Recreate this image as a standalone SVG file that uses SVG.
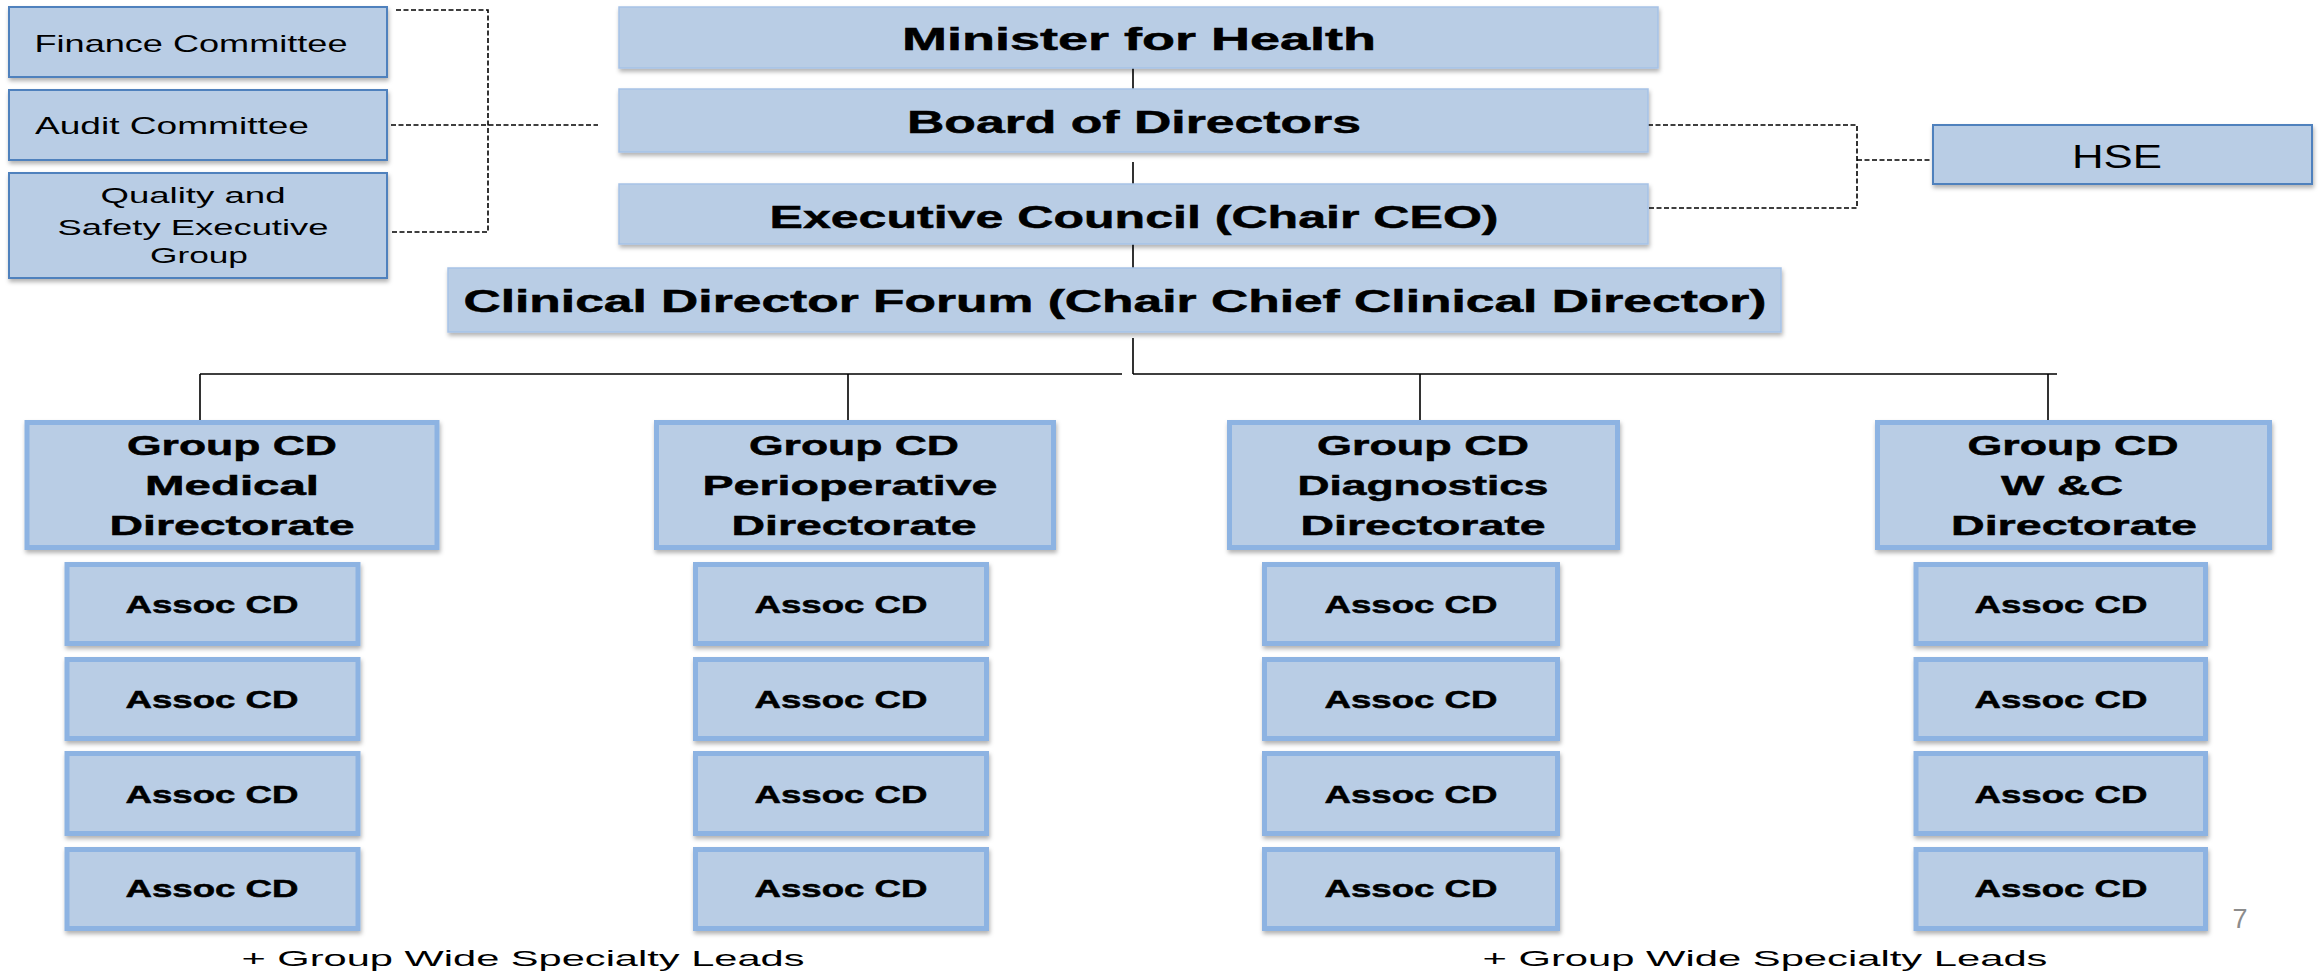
<svg xmlns="http://www.w3.org/2000/svg" width="2323" height="971" viewBox="0 0 2323 971">
<defs>
<filter id="sh" x="-5%" y="-10%" width="110%" height="130%">
<feDropShadow dx="1" dy="3" stdDeviation="2" flood-color="#000" flood-opacity="0.3"/>
</filter>
<style>
.box{fill:#b9cde5;filter:url(#sh)}
.thin{stroke:#a6c2e6;stroke-width:1.5}
.med{stroke:#4f81bd;stroke-width:2}
.thick{stroke:#8db3e2;stroke-width:5}
text{font-family:"Liberation Sans",Arial,sans-serif;fill:#000;text-anchor:middle}
.b{font-weight:bold;stroke:#000;stroke-width:0.5}
.t1{font-size:32px}
.t2{font-size:28px}
.t3{font-size:24px}
.r24{font-size:24px}
.r22{font-size:22px}
.solid{stroke:#000;stroke-width:1.6;fill:none}
.dash{stroke:#000;stroke-width:1.6;fill:none;stroke-dasharray:5 2.5}
</style>
</defs>
<rect width="2323" height="971" fill="#fff"/>

<g id="connectors">
<path class="solid" d="M1133,67V89M1133,162V184M1133,244V268M1133,338V374M200,374H1122M1133,374H2057M200,374V420M848,374V420M1420,374V420M2048,374V420"/>
<path class="dash" d="M396,10H488V232H391M391,125H598M1648,125H1857V208H1648M1857,160H1933"/>
</g>

<g id="finance"><rect class="box med" x="9" y="7" width="378" height="70"/><text class="r24" x="191" y="52" textLength="313" lengthAdjust="spacingAndGlyphs">Finance Committee</text></g>
<g id="audit"><rect class="box med" x="9" y="90" width="378" height="70"/><text class="r24" x="172" y="134" textLength="274" lengthAdjust="spacingAndGlyphs">Audit Committee</text></g>
<g id="quality"><rect class="box med" x="9" y="173" width="378" height="105"/>
<text class="r22" x="193" y="203" textLength="185" lengthAdjust="spacingAndGlyphs">Quality and</text>
<text class="r22" x="193" y="235" textLength="271" lengthAdjust="spacingAndGlyphs">Safety  Executive</text>
<text class="r22" x="199" y="263" textLength="98" lengthAdjust="spacingAndGlyphs">Group</text></g>

<g id="minister"><rect class="box thin" x="619" y="7" width="1039" height="61"/><text class="b t1" x="1139" y="50" textLength="474" lengthAdjust="spacingAndGlyphs">Minister for Health</text></g>
<g id="board"><rect class="box thin" x="619" y="89" width="1029" height="63"/><text class="b t1" x="1134" y="133" textLength="454" lengthAdjust="spacingAndGlyphs">Board of Directors</text></g>
<g id="exec"><rect class="box thin" x="619" y="184" width="1029" height="60"/><text class="b t1" x="1134" y="228" textLength="729" lengthAdjust="spacingAndGlyphs">Executive Council (Chair CEO)</text></g>
<g id="clinical"><rect class="box thin" x="448" y="268" width="1333" height="64"/><text class="b t1" x="1115" y="312" textLength="1303" lengthAdjust="spacingAndGlyphs">Clinical Director Forum (Chair Chief Clinical Director)</text></g>
<g id="hse"><rect class="box med" x="1933" y="125" width="379" height="59"/><text style="font-size:33px" x="2117" y="168" textLength="90" lengthAdjust="spacingAndGlyphs">HSE</text></g>

<g id="g-medical"><rect class="box thick" x="27" y="422.5" width="410" height="125"/>
<text class="b t2" x="232" y="455" textLength="210" lengthAdjust="spacingAndGlyphs">Group CD</text>
<text class="b t2" x="232" y="495" textLength="174" lengthAdjust="spacingAndGlyphs">Medical</text>
<text class="b t2" x="232" y="535" textLength="245" lengthAdjust="spacingAndGlyphs">Directorate</text></g>
<g id="g-perio"><rect class="box thick" x="656.5" y="422.5" width="397" height="125"/>
<text class="b t2" x="854" y="455" textLength="210" lengthAdjust="spacingAndGlyphs">Group CD</text>
<text class="b t2" x="850" y="495" textLength="295" lengthAdjust="spacingAndGlyphs">Perioperative</text>
<text class="b t2" x="854" y="535" textLength="245" lengthAdjust="spacingAndGlyphs">Directorate</text></g>
<g id="g-diag"><rect class="box thick" x="1229.5" y="422.5" width="388" height="125"/>
<text class="b t2" x="1423" y="455" textLength="212" lengthAdjust="spacingAndGlyphs">Group CD</text>
<text class="b t2" x="1423" y="495" textLength="251" lengthAdjust="spacingAndGlyphs">Diagnostics</text>
<text class="b t2" x="1423" y="535" textLength="245" lengthAdjust="spacingAndGlyphs">Directorate</text></g>
<g id="g-wc"><rect class="box thick" x="1877.5" y="422.5" width="392" height="125"/>
<text class="b t2" x="2073" y="455" textLength="211" lengthAdjust="spacingAndGlyphs">Group CD</text>
<text class="b t2" x="2062" y="495" textLength="122" lengthAdjust="spacingAndGlyphs">W &amp;C</text>
<text class="b t2" x="2074" y="535" textLength="246" lengthAdjust="spacingAndGlyphs">Directorate</text></g>

<g id="a-med-1"><rect class="box thick" x="67" y="564.5" width="291" height="79"/><text class="b t3" x="212" y="613" textLength="173" lengthAdjust="spacingAndGlyphs">Assoc CD</text></g>
<g id="a-med-2"><rect class="box thick" x="67" y="659.5" width="291" height="79"/><text class="b t3" x="212" y="708" textLength="173" lengthAdjust="spacingAndGlyphs">Assoc CD</text></g>
<g id="a-med-3"><rect class="box thick" x="67" y="753.5" width="291" height="80"/><text class="b t3" x="212" y="803" textLength="173" lengthAdjust="spacingAndGlyphs">Assoc CD</text></g>
<g id="a-med-4"><rect class="box thick" x="67" y="849.5" width="291" height="79"/><text class="b t3" x="212" y="897" textLength="173" lengthAdjust="spacingAndGlyphs">Assoc CD</text></g>

<g id="a-per-1"><rect class="box thick" x="695.5" y="564.5" width="291" height="79"/><text class="b t3" x="841" y="613" textLength="173" lengthAdjust="spacingAndGlyphs">Assoc CD</text></g>
<g id="a-per-2"><rect class="box thick" x="695.5" y="659.5" width="291" height="79"/><text class="b t3" x="841" y="708" textLength="173" lengthAdjust="spacingAndGlyphs">Assoc CD</text></g>
<g id="a-per-3"><rect class="box thick" x="695.5" y="753.5" width="291" height="80"/><text class="b t3" x="841" y="803" textLength="173" lengthAdjust="spacingAndGlyphs">Assoc CD</text></g>
<g id="a-per-4"><rect class="box thick" x="695.5" y="849.5" width="291" height="79"/><text class="b t3" x="841" y="897" textLength="173" lengthAdjust="spacingAndGlyphs">Assoc CD</text></g>

<g id="a-dia-1"><rect class="box thick" x="1264.5" y="564.5" width="293" height="79"/><text class="b t3" x="1411" y="613" textLength="173" lengthAdjust="spacingAndGlyphs">Assoc CD</text></g>
<g id="a-dia-2"><rect class="box thick" x="1264.5" y="659.5" width="293" height="79"/><text class="b t3" x="1411" y="708" textLength="173" lengthAdjust="spacingAndGlyphs">Assoc CD</text></g>
<g id="a-dia-3"><rect class="box thick" x="1264.5" y="753.5" width="293" height="80"/><text class="b t3" x="1411" y="803" textLength="173" lengthAdjust="spacingAndGlyphs">Assoc CD</text></g>
<g id="a-dia-4"><rect class="box thick" x="1264.5" y="849.5" width="293" height="79"/><text class="b t3" x="1411" y="897" textLength="173" lengthAdjust="spacingAndGlyphs">Assoc CD</text></g>

<g id="a-wc-1"><rect class="box thick" x="1916" y="564.5" width="289.5" height="79"/><text class="b t3" x="2061" y="613" textLength="173" lengthAdjust="spacingAndGlyphs">Assoc CD</text></g>
<g id="a-wc-2"><rect class="box thick" x="1916" y="659.5" width="289.5" height="79"/><text class="b t3" x="2061" y="708" textLength="173" lengthAdjust="spacingAndGlyphs">Assoc CD</text></g>
<g id="a-wc-3"><rect class="box thick" x="1916" y="753.5" width="289.5" height="80"/><text class="b t3" x="2061" y="803" textLength="173" lengthAdjust="spacingAndGlyphs">Assoc CD</text></g>
<g id="a-wc-4"><rect class="box thick" x="1916" y="849.5" width="289.5" height="79"/><text class="b t3" x="2061" y="897" textLength="173" lengthAdjust="spacingAndGlyphs">Assoc CD</text></g>

<text class="r22" x="523" y="966" textLength="563" lengthAdjust="spacingAndGlyphs">+ Group Wide Specialty Leads</text>
<text class="r22" x="1765" y="966" textLength="565" lengthAdjust="spacingAndGlyphs">+ Group Wide Specialty Leads</text>
<text style="font-size:28px;fill:#8c8c8c" x="2240" y="928" textLength="15" lengthAdjust="spacingAndGlyphs">7</text>
</svg>
